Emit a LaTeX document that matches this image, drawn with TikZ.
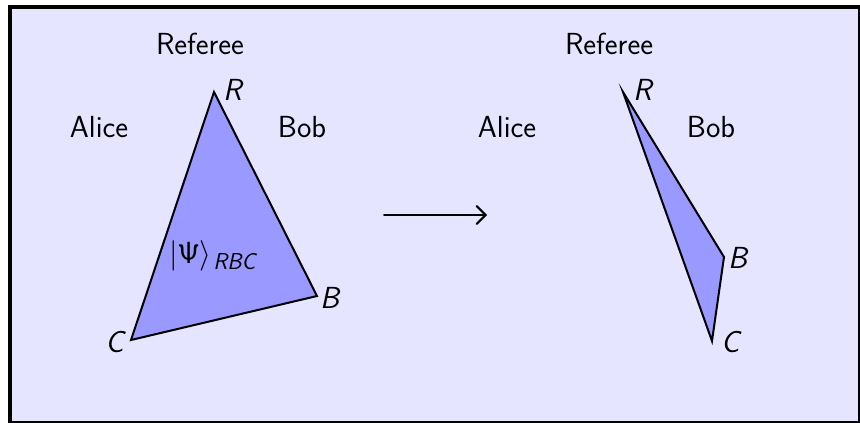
\RequirePackage{fix-cm}
\documentclass[tikz,border=0pt]{standalone}
\usetikzlibrary{arrows.meta}
\newcommand{\sfPsi}{\hbox{\fontencoding{OT1}\fontfamily{cmss}\fontseries{m}\fontshape{n}\selectfont\char9}}
\newcommand{\sfsub}[1]{\hbox{\kern1.5pt\fontsize{23}{27}\selectfont\sffamily\itshape #1}}
\tikzset{
  lbl/.style={font=\fontsize{30.5}{36}\selectfont\sffamily, inner sep=0pt},
  vlbl/.style={lbl, font=\fontsize{30.5}{36}\selectfont\sffamily\itshape},
  tri/.style={draw=black, fill=blue!40, line width=2pt, line join=miter},
}
\begin{document}
\begin{tikzpicture}[x=1pt,y=-1pt]
\useasboundingbox (0,0) rectangle (860,423);
% frame
\fill[white] (0,0) rectangle (860,423);
\fill[black] (8,5) rectangle (860,423);
\fill[blue!10] (12,9) rectangle (858,421);

% left configuration
\coordinate (R1) at (214,92);
\coordinate (B1) at (317,296);
\coordinate (C1) at (131,340);
\draw[tri] (R1) -- (B1) -- (C1) -- cycle;
\node[lbl] (ref1) at (200,44) {Referee};
\node[lbl] (al1) at (99,127) {Alice};
\node[lbl] (bo1) at (302,127) {Bob};
\node[vlbl, anchor=west] (r1) at (223,90) {R};
\node[vlbl, anchor=west] (b1) at (320,298) {B};
\node[vlbl, anchor=east] (c1) at (124,342) {C};
\node[lbl, anchor=west] (psi) at (169,256) {$|\sfPsi\rangle_{\sfsub{RBC}}$};

% arrow
\coordinate (a0) at (384,215);
\coordinate (a1) at (487,215);
\draw[-{Straight Barb[length=9pt,width=18pt,line cap=round]}, line width=2pt, line cap=round] (a0) -- (a1);

% right configuration
\coordinate (R2) at (623,92);
\coordinate (B2) at (724,257);
\coordinate (C2) at (712,341);
\draw[tri] (R2) -- (B2) -- (C2) -- cycle;
\node[lbl] (ref2) at (609,44) {Referee};
\node[lbl] (al2) at (507,127) {Alice};
\node[lbl] (bo2) at (711,127) {Bob};
\node[vlbl, anchor=west] (r2) at (633,90) {R};
\node[vlbl, anchor=west] (b2) at (728,258) {B};
\node[vlbl, anchor=west] (c2) at (721,342) {C};
\end{tikzpicture}
\end{document}
